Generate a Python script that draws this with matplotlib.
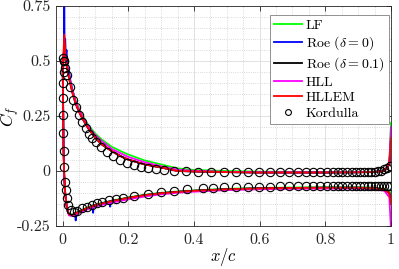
import matplotlib
matplotlib.use("Agg")
import matplotlib.pyplot as plt
from matplotlib.ticker import MultipleLocator, FixedLocator, FixedFormatter

plt.rcParams['font.family'] = 'serif'
plt.rcParams['font.serif'] = ['cmr10']
plt.rcParams['mathtext.fontset'] = 'cm'
plt.rcParams['axes.unicode_minus'] = False
plt.rcParams['axes.formatter.use_mathtext'] = True

# ---------------- data ----------------
# common x-stations for the schemes (upper / lower surface)
lx_up = [0.002, 0.005, 0.01, 0.015, 0.02, 0.03, 0.04, 0.05, 0.06, 0.08, 0.10, 0.12, 0.15, 0.18,
         0.20, 0.25, 0.30, 0.35, 0.40, 0.50, 0.60, 0.70, 0.80, 0.90, 0.95, 0.98, 0.995, 1.0]
lx_lo = [0.0, 0.001, 0.002, 0.003, 0.005, 0.008, 0.012, 0.016, 0.02, 0.03, 0.04, 0.05, 0.06, 0.08,
         0.10, 0.12, 0.15, 0.18, 0.20, 0.25, 0.30, 0.35, 0.40, 0.50, 0.60, 0.70, 0.80, 0.90, 0.95,
         0.98, 0.995, 1.0]

lf_up = [0.49, 0.52, 0.50, 0.465, 0.43, 0.37, 0.32, 0.285, 0.255, 0.205, 0.17, 0.142, 0.11, 0.088,
         0.075, 0.048, 0.03, 0.012, 0.005, 0.0, -0.003, -0.004, -0.004, -0.004, -0.003, 0.0, 0.04, 0.22]
lf_lo = [0.50, 0.40, 0.25, 0.10, -0.02, -0.10, -0.155, -0.185, -0.196, -0.198, -0.19, -0.183, -0.176,
         -0.163, -0.153, -0.145, -0.135, -0.126, -0.12, -0.108, -0.099, -0.093, -0.088, -0.081, -0.077,
         -0.075, -0.074, -0.074, -0.076, -0.082, -0.095, -0.10]

roe01_up = [0.50, 0.56, 0.50, 0.46, 0.42, 0.355, 0.305, 0.27, 0.24, 0.19, 0.15, 0.12, 0.09, 0.065,
            0.052, 0.03, 0.016, 0.001, -0.002, -0.005, -0.007, -0.007, -0.007, -0.006, -0.004, 0.0,
            0.03, 0.15]
roe01_lo = [0.50, 0.40, 0.25, 0.10, -0.02, -0.10, -0.155, -0.185, -0.198, -0.20, -0.192, -0.185,
            -0.178, -0.165, -0.155, -0.147, -0.137, -0.128, -0.122, -0.11, -0.101, -0.095, -0.09,
            -0.083, -0.079, -0.077, -0.076, -0.076, -0.078, -0.085, -0.10, -0.14]

hll_up = [0.50, 0.55, 0.51, 0.47, 0.43, 0.365, 0.315, 0.28, 0.25, 0.20, 0.163, 0.135, 0.10, 0.078,
          0.064, 0.04, 0.022, 0.006, 0.001, -0.004, -0.006, -0.006, -0.006, -0.005, -0.003, 0.0,
          0.04, 0.20]
hll_lo = [0.50, 0.40, 0.25, 0.10, -0.02, -0.10, -0.157, -0.188, -0.202, -0.205, -0.198, -0.191,
          -0.184, -0.172, -0.162, -0.154, -0.144, -0.135, -0.129, -0.116, -0.106, -0.099, -0.094,
          -0.087, -0.083, -0.081, -0.080, -0.080, -0.082, -0.090, -0.12, -0.27]

hllem_up = [0.50, 0.62, 0.50, 0.46, 0.42, 0.355, 0.305, 0.27, 0.24, 0.19, 0.15, 0.12, 0.09, 0.065,
            0.052, 0.03, 0.016, 0.0, -0.002, -0.005, -0.007, -0.007, -0.007, -0.006, -0.004, 0.0,
            0.03, 0.15]
hllem_lo = [0.50, 0.40, 0.25, 0.10, -0.02, -0.10, -0.155, -0.185, -0.198, -0.20, -0.192, -0.185,
            -0.178, -0.165, -0.155, -0.147, -0.137, -0.128, -0.122, -0.11, -0.101, -0.095, -0.09,
            -0.083, -0.079, -0.077, -0.076, -0.076, -0.078, -0.085, -0.10, -0.15]

# Roe (delta = 0) has its own stations (oscillations)
roe0_x_up = [0.002, 0.004, 0.005, 0.006, 0.008, 0.01, 0.012, 0.015, 0.02, 0.025, 0.03, 0.04, 0.05,
             0.06, 0.08, 0.10, 0.12, 0.15, 0.18, 0.20, 0.25, 0.30, 0.35, 0.40, 0.50, 0.60, 0.70,
             0.80, 0.90, 0.95, 0.98, 0.995, 1.0]
roe0_up = [0.50, 0.55, 0.90, 0.56, 0.60, 0.52, 0.55, 0.47, 0.45, 0.40, 0.37, 0.31, 0.27, 0.24, 0.19,
           0.15, 0.12, 0.09, 0.065, 0.052, 0.03, 0.016, 0.0, -0.002, -0.005, -0.007, -0.007, -0.007,
           -0.006, -0.004, 0.0, 0.03, 0.15]
roe0_x_lo = [0.0, 0.001, 0.002, 0.003, 0.005, 0.008, 0.012, 0.016, 0.02, 0.03, 0.038, 0.040, 0.042,
             0.05, 0.06, 0.08, 0.091, 0.093, 0.095, 0.10, 0.12, 0.143, 0.145, 0.147, 0.15, 0.18,
             0.20, 0.25, 0.30, 0.35, 0.40, 0.50, 0.60, 0.70, 0.80, 0.90, 0.95, 0.98, 0.995, 1.0]
roe0_lo = [0.50, 0.40, 0.25, 0.10, -0.02, -0.10, -0.155, -0.185, -0.198, -0.20, -0.194, -0.225,
           -0.192, -0.185, -0.178, -0.165, -0.157, -0.19, -0.156, -0.155, -0.147, -0.138, -0.162,
           -0.137, -0.137, -0.128, -0.122, -0.11, -0.101, -0.095, -0.09, -0.083, -0.079, -0.077,
           -0.076, -0.076, -0.078, -0.085, -0.10, -0.15]

# Kordulla reference data
kx_up = [0.004, 0.008, 0.014, 0.022, 0.033, 0.040, 0.050, 0.060, 0.070, 0.080, 0.091, 0.101, 0.116,
         0.135, 0.155, 0.175, 0.196, 0.218, 0.239, 0.259, 0.284, 0.310, 0.340, 0.376, 0.413, 0.452,
         0.493, 0.529, 0.565, 0.597, 0.631, 0.661, 0.689, 0.718, 0.740, 0.764, 0.784, 0.804, 0.822,
         0.838, 0.852, 0.866, 0.881, 0.893, 0.905, 0.917, 0.929, 0.940, 0.950, 0.960, 0.970, 0.979,
         0.988, 0.996]
kcf_up = [0.50, 0.47, 0.436, 0.383, 0.323, 0.292, 0.255, 0.224, 0.194, 0.170, 0.150, 0.130, 0.108,
          0.085, 0.066, 0.050, 0.038, 0.027, 0.019, 0.013, 0.008, 0.004, 0.0, -0.002, -0.004, -0.005,
          -0.005, -0.005, -0.005, -0.005, -0.005, -0.005, -0.005, -0.005, -0.005, -0.005, -0.005,
          -0.005, -0.005, -0.005, -0.005, -0.005, -0.005, -0.005, -0.005, -0.005, -0.004, -0.004,
          -0.003, -0.001, 0.002, 0.008, 0.015, 0.025]
kx_lo = [0.002, 0.003, 0.003, 0.002, 0.002, 0.002, 0.002, 0.003, 0.004, 0.006, 0.009, 0.013, 0.018,
         0.025, 0.035, 0.045, 0.060, 0.075, 0.091, 0.106, 0.121, 0.142, 0.162, 0.183, 0.218, 0.259,
         0.300, 0.340, 0.380, 0.427, 0.458, 0.493, 0.529, 0.565, 0.597, 0.631, 0.661, 0.689, 0.718,
         0.740, 0.764, 0.784, 0.804, 0.822, 0.838, 0.852, 0.866, 0.881, 0.893, 0.905, 0.917, 0.929,
         0.940, 0.950, 0.960, 0.970, 0.979, 0.988, 0.996]
kcf_lo = [0.515, 0.50, 0.45, 0.40, 0.33, 0.255, 0.171, 0.092, 0.02, -0.049, -0.086, -0.124, -0.155,
          -0.178, -0.188, -0.180, -0.170, -0.162, -0.155, -0.147, -0.139, -0.133, -0.127, -0.121,
          -0.112, -0.105, -0.097, -0.090, -0.084, -0.078, -0.076, -0.074, -0.073, -0.072, -0.071,
          -0.071, -0.070, -0.070, -0.069, -0.069, -0.069, -0.068, -0.068, -0.068, -0.068, -0.067,
          -0.067, -0.067, -0.067, -0.067, -0.066, -0.066, -0.066, -0.066, -0.066, -0.066, -0.066,
          -0.066, -0.066]

xticks = [0, 0.2, 0.4, 0.6, 0.8, 1]
xticklabels = ['0', '0.2', '0.4', '0.6', '0.8', '1']
yticks = [-0.25, 0, 0.25, 0.5, 0.75]
yticklabels = ['-0.25', '0', '0.25', '0.5', '0.75']

# ---------------- plot ----------------
fig = plt.figure(figsize=(3.99, 2.69), dpi=100)
ax = fig.add_axes([56/399, 43/269, 335/399, 220/269])


def loop(xl, yl, xu, yu):
    return list(reversed(xl)) + list(xu), list(reversed(yl)) + list(yu)


lw = 1.3
x, y = loop(lx_lo, lf_lo, lx_up, lf_up)
ax.plot(x, y, color='#00ff00', lw=lw, label='LF')
x, y = loop(roe0_x_lo, roe0_lo, roe0_x_up, roe0_up)
ax.plot(x, y, color='#0000ff', lw=lw, label=r'Roe ($\delta = 0$)')
x, y = loop(lx_lo, roe01_lo, lx_up, roe01_up)
ax.plot(x, y, color='black', lw=lw, label=r'Roe ($\delta = 0.1$)')
x, y = loop(lx_lo, hll_lo, lx_up, hll_up)
ax.plot(x, y, color='#ff00ff', lw=lw, label='HLL')
x, y = loop(lx_lo, hllem_lo, lx_up, hllem_up)
ax.plot(x, y, color='#ff0000', lw=lw, label='HLLEM')
ax.plot(kx_up + kx_lo, kcf_up + kcf_lo, linestyle='none', marker='o', ms=6, mfc='none',
        mec='black', mew=0.8, label='Kordulla')

ax.set_xlim(-0.02, 1.0)
ax.set_ylim(-0.25, 0.75)
ax.xaxis.set_major_locator(FixedLocator(xticks))
ax.xaxis.set_major_formatter(FixedFormatter(xticklabels))
ax.yaxis.set_major_locator(FixedLocator(yticks))
ax.yaxis.set_major_formatter(FixedFormatter(yticklabels))
ax.xaxis.set_minor_locator(MultipleLocator(0.05))
ax.yaxis.set_minor_locator(MultipleLocator(0.05))
ax.grid(True, which='major', color='#dcdcdc', lw=0.6, ls='-')
ax.grid(True, which='minor', color='#cccccc', lw=0.6, ls=':')
ax.set_axisbelow(True)
ax.tick_params(which='both', direction='in', top=True, right=True, colors='#262626',
               labelsize=11.5, labelcolor='#262626')
ax.tick_params(which='major', length=3.5, width=0.6)
ax.tick_params(which='minor', length=0)
ax.tick_params(axis='x', pad=5)
ax.tick_params(axis='y', pad=4)
for s in ax.spines.values():
    s.set_color('#262626')
    s.set_linewidth(0.6)

ax.set_xlabel(r'$x/c$', fontsize=12, va='center')
ax.xaxis.set_label_coords(0.5, -0.14)
ax.set_ylabel(r'$C_f$', fontsize=12.5, va='center')
ax.yaxis.set_label_coords(-0.137, 0.5)

leg = ax.legend(loc='upper right', bbox_to_anchor=(0.994, 0.959), borderaxespad=0,
                fontsize=10, numpoints=1, fancybox=False, framealpha=1, edgecolor='#808080',
                handlelength=2.0, handletextpad=0.3, labelspacing=0.2, borderpad=0.3,
                markerscale=0.7)
leg.get_frame().set_linewidth(0.6)

fig.savefig('out.png', dpi=100)
